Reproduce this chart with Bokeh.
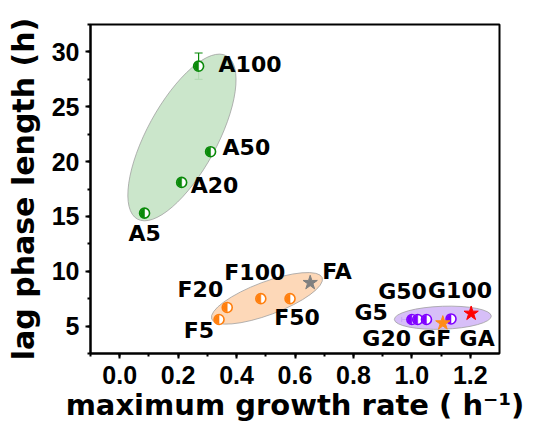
import math
from bokeh.plotting import figure
from bokeh.models import ColumnDataSource, Range1d, SingleIntervalTicker, PrintfTickFormatter, Whisker, TeeHead
from bokeh.core.properties import value
from bokeh.embed import file_html
from bokeh.resources import INLINE

# ---------------- data ----------------
A_labels = ["A5", "A20", "A50", "A100"]
A_x = [0.085, 0.212, 0.311, 0.270]
A_y = [15.3, 18.1, 20.9, 28.7]
A_xerr = [0.012, 0.012, 0.010, 0.010]
A_yerr = [0.25, 0.25, 0.25, 1.2]

F_labels = ["F5", "F20", "F100", "F50"]
F_x = [0.340, 0.368, 0.483, 0.583]
F_y = [5.6, 6.7, 7.5, 7.5]

G_labels = ["G5", "G20", "G50", "G100"]
G_x = [1.000, 1.020, 1.050, 1.134]
G_y = [5.6, 5.6, 5.6, 5.65]
G_xerr = [0.035, 0.010, 0.010, 0.0]

S_labels = ["FA", "GF", "GA"]
S_x = [0.652, 1.106, 1.203]
S_y = [8.95, 5.27, 6.15]

x_title = "maximum growth rate ( h\u207b\u00b9)"
y_title = "lag phase length (h)"

# ---------------- styles ----------------
GREEN, ORANGE, PURPLE = "#0a8a0a", "#ff7f0e", "#7f00ff"
S_colors = ["#808080", "#ff8c1a", "#ff0000"]
label_font = value("DejaVu Sans")
tick_font = "Liberation Sans"

# label placement (screen px; align)
A_off = dict(dx=[0, 9, 12, 20], dy=[20, 3, -4, -2], align=["center", "left", "left", "left"])
F_off = dict(dx=[-5, -4, -6, 7], dy=[11, -18, -26, 19], align=["right", "right", "center", "center"])
G_off = dict(dx=[-24, -31, -24, 9], dy=[-7, 19, -28, -28], align=["right", "center", "center", "center"])
S_off = dict(dx=[12, -8, 6], dy=[-11, 15, 25], align=["left", "center", "center"])

# group ellipses: center (data), size in screen px, angle in degrees
ellipses = [
    dict(cx=0.213, cy=22.2, w=186, h=70, ang=61.4, fill="#c5e3c5"),
    dict(cx=0.504, cy=7.53, w=118, h=33, ang=20.5, fill="#fdd4b0"),
    dict(cx=1.106, cy=5.76, w=97, h=23, ang=2.0, fill="#d3b8f7"),
]

p = figure(frame_width=409, frame_height=329, output_backend="svg", toolbar_location=None,
           x_range=Range1d(-0.1, 1.3), y_range=Range1d(2.5, 32.5),
           min_border_left=90, min_border_top=24, min_border_right=35, min_border_bottom=75)
p.background_fill_color = "white"
p.border_fill_color = "white"
p.outline_line_color = "black"
p.outline_line_width = 2
p.xgrid.visible = False
p.ygrid.visible = False

for e in ellipses:
    p.ellipse(x=[e["cx"]], y=[e["cy"]], width=e["w"], height=e["h"], angle=math.radians(e["ang"]),
              width_units="screen", height_units="screen",
              fill_color=e["fill"], fill_alpha=0.9, line_color="#a0a0a0", line_width=1, line_alpha=0.8)

def half_filled(xs, ys, color, xerr=None, yerr=None):
    if xerr is not None:
        src = ColumnDataSource(dict(y=ys, lo=[a - b for a, b in zip(xs, xerr)], hi=[a + b for a, b in zip(xs, xerr)]))
        w = Whisker(source=src, base="y", lower="lo", upper="hi", dimension="width",
                    line_color=color, line_width=1.2,
                    upper_head=TeeHead(size=5, line_color=color, line_width=1.2),
                    lower_head=TeeHead(size=5, line_color=color, line_width=1.2))
        p.add_layout(w)
    if yerr is not None:
        src = ColumnDataSource(dict(x=xs, lo=[a - b for a, b in zip(ys, yerr)], hi=[a + b for a, b in zip(ys, yerr)]))
        w = Whisker(source=src, base="x", lower="lo", upper="hi", dimension="height",
                    line_color=color, line_width=1.2,
                    upper_head=TeeHead(size=8, line_color=color, line_width=1.2),
                    lower_head=TeeHead(size=8, line_color=color, line_width=1.2))
        p.add_layout(w)
    p.scatter(xs, ys, marker="circle", size=10, fill_color="white", line_color=color, line_width=1.6)
    p.wedge(xs, ys, radius=4.5, radius_units="screen", start_angle=math.pi / 2, end_angle=3 * math.pi / 2,
            fill_color=color, line_color=color, line_width=0.5)

half_filled(A_x, A_y, GREEN, xerr=A_xerr, yerr=A_yerr)
half_filled(F_x, F_y, ORANGE)
half_filled(G_x, G_y, PURPLE, xerr=G_xerr)
p.scatter(S_x, S_y, marker="star", size=15, fill_color=S_colors, line_color=S_colors)

def labels(xs, ys, names, off):
    for x, y, t, dx, dy, al in zip(xs, ys, names, off["dx"], off["dy"], off["align"]):
        p.text(x=[x], y=[y], text=[t], x_offset=dx, y_offset=dy, text_align=al, text_baseline="middle",
               text_font=label_font, text_font_style="bold", text_font_size="22px", text_color="black")

labels(A_x, A_y, A_labels, A_off)
labels(F_x, F_y, F_labels, F_off)
labels(G_x, G_y, G_labels, G_off)
labels(S_x, S_y, S_labels, S_off)

p.xaxis.ticker = SingleIntervalTicker(interval=0.2, num_minor_ticks=2)
p.yaxis.ticker = SingleIntervalTicker(interval=5, num_minor_ticks=2)
p.xaxis.formatter = PrintfTickFormatter(format="%.1f")
p.yaxis.formatter = PrintfTickFormatter(format="%d")
for ax in (p.xaxis, p.yaxis):
    ax.axis_line_width = 2
    ax.axis_line_color = "black"
    ax.major_tick_line_width = 2
    ax.minor_tick_line_width = 2
    ax.major_tick_out = 5
    ax.major_tick_in = 0
    ax.minor_tick_out = 3
    ax.minor_tick_in = 0
    ax.major_label_text_font = tick_font
    ax.major_label_text_font_style = "bold"
    ax.major_label_text_font_size = "25px"
    ax.major_label_text_color = "black"
    ax.axis_label_text_font = "DejaVu Sans"
    ax.axis_label_text_font_style = "bold"
    ax.axis_label_text_color = "black"
p.xaxis.axis_label_text_font_size = "29px"
p.yaxis.axis_label_text_font_size = "30px"
p.xaxis.axis_label = x_title
p.yaxis.axis_label = y_title
p.xaxis.major_label_standoff = 7
p.xaxis.axis_label_standoff = 1
p.yaxis.major_label_standoff = 6
p.yaxis.axis_label_standoff = 8

open("out.html", "w").write(file_html(p, INLINE))
